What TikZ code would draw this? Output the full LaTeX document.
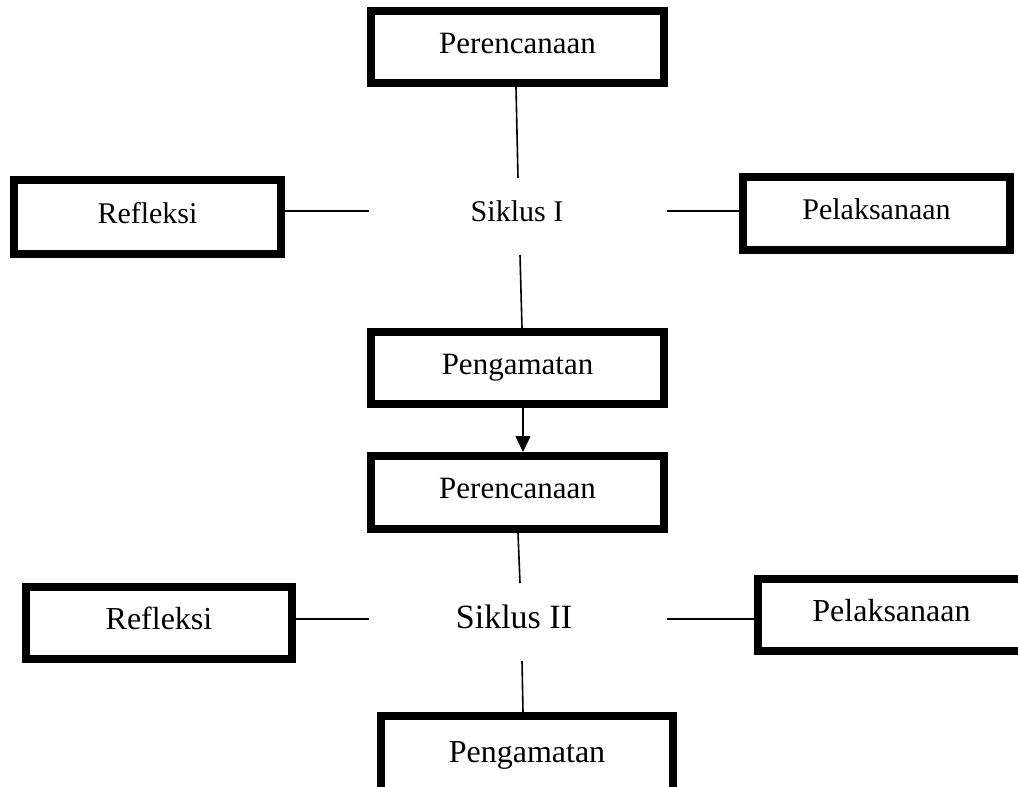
\documentclass[tikz,border=0pt]{standalone}
\usepackage{fontspec}
\setmainfont{Liberation Serif}
\usetikzlibrary{arrows.meta}
\begin{document}
\begin{tikzpicture}[x=1pt,y=-1pt,
  boxA/.style={draw=black,line width=8pt,rectangle,inner sep=0pt,text height=21pt,text depth=9pt,font=\fontsize{31}{36}\selectfont},
  boxB/.style={draw=black,line width=8pt,rectangle,inner sep=0pt,text height=21pt,text depth=9pt,font=\fontsize{32}{38}\selectfont},
  lab/.style={inner sep=0pt,font=\fontsize{30}{36}\selectfont},
  labB/.style={inner sep=0pt,font=\fontsize{34}{40}\selectfont},
  conn/.style={line width=1.6pt,black}]
\useasboundingbox (0,0) rectangle (1018,787);
\begin{scope}
\clip (0,0) rectangle (1018,787);
% Cycle I
\node[boxA,minimum width=293pt,minimum height=72pt] (p1) at (517.5,47) {Perencanaan};
\node[boxA,minimum width=267pt,minimum height=74pt,font=\fontsize{30}{36}\selectfont] (r1) at (147.5,217) {Refleksi};
\node[boxA,minimum width=267pt,minimum height=73pt,font=\fontsize{30}{36}\selectfont] (l1) at (876.5,213.5) {Pelaksanaan};
\node[boxA,minimum width=293pt,minimum height=72pt] (g1) at (517.5,368) {Pengamatan};
\node[lab] (s1) at (517,211) {Siklus I};
\coordinate (s1n) at (518,178);
\coordinate (s1w) at (369,211);
\coordinate (s1e) at (667,211);
\coordinate (s1s) at (520,255);
\draw[conn] ([xshift=-1.5pt]p1.south) -- (s1n);
\draw[conn] (r1.east |- s1w) -- (s1w);
\draw[conn] (s1e) -- (l1.west |- s1e);
\draw[conn] (s1s) -- ([xshift=4.5pt]g1.north);
% link
\node[boxA,minimum width=293pt,minimum height=73pt] (p2) at (517.5,492.5) {Perencanaan};
\draw[conn,-{Triangle[length=16pt,width=15pt]}] ([xshift=5.5pt]g1.south) -- ([xshift=5.5pt]p2.north);
% Cycle II
\node[boxB,minimum width=266pt,minimum height=72pt] (r2) at (159,623) {Refleksi};
\node[boxB,minimum width=267pt,minimum height=72pt] (l2) at (891.5,615) {Pelaksanaan};
\node[boxB,minimum width=292pt,minimum height=80pt] (g2) at (527,756) {Pengamatan};
\node[labB] (s2) at (514,617) {Siklus II};
\coordinate (s2n) at (520,583);
\coordinate (s2w) at (369,619);
\coordinate (s2e) at (667,619);
\coordinate (s2s) at (522,661);
\draw[conn] ([xshift=0.5pt]p2.south) -- (s2n);
\draw[conn] (r2.east |- s2w) -- (s2w);
\draw[conn] (s2e) -- (l2.west |- s2e);
\draw[conn] (s2s) -- ([xshift=-4pt]g2.north);
\end{scope}
\end{tikzpicture}
\end{document}
